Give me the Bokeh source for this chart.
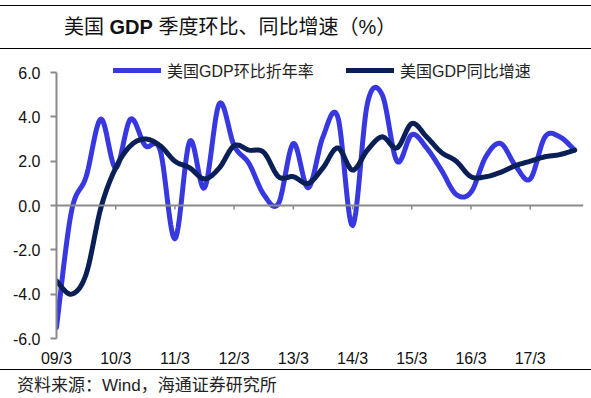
import numpy as np
from bokeh.plotting import figure
from bokeh.layouts import column
from bokeh.models import (Range1d, Span, Legend, LegendItem, FixedTicker,
                          NumeralTickFormatter, Div)
from bokeh.embed import file_html
from bokeh.resources import INLINE

# ---- data ----
years = ["09", "10", "11", "12", "13", "14", "15", "16", "17"]
tick_labels = [f"{y}/3" for y in years]
qoq_saar = [-5.5, -0.3, 1.3, 3.9, 1.7, 3.9, 2.7, 2.5,
            -1.5, 2.9, 0.8, 4.6, 2.7, 1.9, 0.5, 0.1,
            2.8, 0.8, 3.1, 4.0, -0.9, 4.6, 5.0, 2.0,
            3.2, 2.6, 1.6, 0.5, 0.6, 2.2, 2.8, 1.8,
            1.2, 3.1, 3.1, 2.5]
yoy = [-3.4, -4.0, -3.1, -0.1, 1.7, 2.7, 3.0, 2.7,
       2.0, 1.7, 1.2, 1.7, 2.7, 2.5, 2.4, 1.3,
       1.3, 1.0, 1.7, 2.6, 1.6, 2.5, 3.1, 2.6,
       3.7, 3.1, 2.4, 2.0, 1.3, 1.3, 1.5, 1.8,
       2.0, 2.2, 2.3, 2.5]
series_names = ["美国GDP环比折年率", "美国GDP同比增速"]
title_parts = ["美国", "GDP", "季度环比、同比增速（%）"]
source_text = "资料来源：Wind，海通证券研究所"

BLUE = "#3838e0"
NAVY = "#0b1f57"
GRAY = "#8a8a8a"
FONT = "'Liberation Sans', 'Noto Sans CJK SC'"
W = 591


def smooth(vals, n=14):
    """Smoothed (Bezier) curve through the data points, like a spreadsheet 'smoothed line'."""
    y = np.asarray(vals, float)
    x = np.arange(len(y), dtype=float)
    N = len(y)
    P = np.column_stack([x, y])
    out = []
    for i in range(N - 1):
        p0 = P[max(i - 1, 0)]
        p1 = P[i]
        p2 = P[i + 1]
        p3 = P[min(i + 2, N - 1)]
        c1 = p1 + (p2 - p0) / 6.0
        c2 = p2 - (p3 - p1) / 6.0
        t = np.linspace(0, 1, n, endpoint=(i == N - 2))[:, None]
        b = ((1 - t) ** 3) * p1 + 3 * ((1 - t) ** 2) * t * c1 + 3 * (1 - t) * t ** 2 * c2 + t ** 3 * p2
        out.append(b)
    out = np.vstack(out)
    return out[:, 0], out[:, 1]


RULE = "position:absolute;left:0;width:591px;height:0;border-top:1.5px solid #000;"

# ---- title block ----
title_html = (
    '<div style="position:relative;width:591px;height:50px;overflow:hidden;">'
    f'<div style="{RULE}top:5px;"></div>'
    '<div style="position:absolute;left:64px;top:16px;line-height:22px;font-size:20px;'
    f'color:#111;white-space:nowrap;font-family:{FONT};">'
    f'{title_parts[0]} <b>{title_parts[1]}</b> {title_parts[2]}</div>'
    f'<div style="{RULE}top:48px;"></div>'
    '</div>'
)
top = Div(text=title_html, width=W, height=50, margin=0)

# ---- main chart ----
p = figure(width=W, height=319, output_backend="svg", toolbar_location=None,
           x_range=Range1d(0, 35.6), y_range=Range1d(-6, 6.5),
           min_border_left=56, min_border_right=8, min_border_top=11, min_border_bottom=31,
           margin=0)
p.outline_line_color = None
p.xgrid.visible = False
p.ygrid.visible = False

p.yaxis.ticker = FixedTicker(ticks=[-6, -4, -2, 0, 2, 4, 6])
p.yaxis.bounds = (-6, 6)
p.yaxis.formatter = NumeralTickFormatter(format="0.0")
p.yaxis.axis_line_color = GRAY
p.yaxis.axis_line_width = 2
p.yaxis.major_tick_line_color = GRAY
p.yaxis.major_tick_line_width = 2
p.yaxis.major_tick_out = 6
p.yaxis.major_tick_in = 0
p.yaxis.minor_tick_line_color = None
p.yaxis.major_label_standoff = 10
p.yaxis.major_label_text_font = FONT
p.yaxis.major_label_text_font_size = "16px"
p.yaxis.major_label_text_color = "#111111"

tick_pos = [4 * i for i in range(len(tick_labels))]
p.xaxis.ticker = FixedTicker(ticks=tick_pos)
p.xaxis.major_label_overrides = {t: l for t, l in zip(tick_pos, tick_labels)}
p.xaxis.axis_line_color = None
p.xaxis.major_tick_line_color = None
p.xaxis.minor_tick_line_color = None
p.xaxis.major_label_standoff = 5
p.xaxis.major_label_text_font = FONT
p.xaxis.major_label_text_font_size = "16px"
p.xaxis.major_label_text_color = "#111111"

p.add_layout(Span(location=0, dimension="width", line_color=GRAY, line_width=2))
p.segment(x0=tick_pos[1:], y0=0, x1=tick_pos[1:], y1=-0.18, line_color=GRAY, line_width=1.5)

bx, by = smooth(qoq_saar)
nx, ny = smooth(yoy)
r1 = p.line(bx, by, line_color=BLUE, line_width=5, line_join="round", line_cap="round")
r2 = p.line(nx, ny, line_color=NAVY, line_width=5, line_join="round", line_cap="round")

legend = Legend(items=[LegendItem(label=series_names[0], renderers=[r1]),
                       LegendItem(label=series_names[1], renderers=[r2])],
                orientation="horizontal", location=(57, 256),
                glyph_width=48, glyph_height=16, label_standoff=6, label_width=174,
                spacing=5, padding=0, margin=0,
                border_line_alpha=0, background_fill_alpha=0,
                label_text_font=FONT, label_text_font_size="16px", label_text_color="#222222")
p.add_layout(legend)

# ---- source block ----
source_html = (
    '<div style="position:relative;width:591px;height:29px;overflow:hidden;">'
    f'<div style="{RULE}top:0px;"></div>'
    '<div style="position:absolute;left:17px;top:7px;line-height:20px;font-size:17px;'
    f'color:#222;white-space:nowrap;font-family:{FONT};">{source_text}</div>'
    '</div>'
)
bottom = Div(text=source_html, width=W, height=29, margin=0)

layout = column(top, p, bottom, spacing=0)
open("out.html", "w").write(file_html(layout, INLINE))
